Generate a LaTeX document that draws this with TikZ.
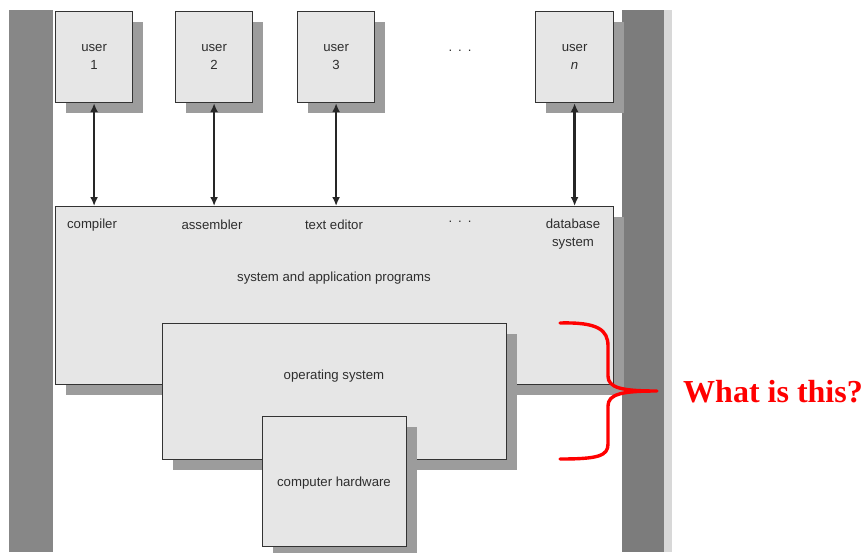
\documentclass[tikz,border=0pt]{standalone}
\usepackage{fontspec}
\setmainfont{Liberation Sans}
\newfontfamily\serifbold{Liberation Serif}
\usetikzlibrary{arrows.meta,shadows}
\definecolor{boxfill}{HTML}{E6E6E6}
\definecolor{boxline}{HTML}{333333}
\definecolor{shade}{HTML}{9C9C9C}
\definecolor{barcol}{HTML}{878787}
\definecolor{stripcol}{HTML}{D8D8D8}
\definecolor{txt}{HTML}{2E2E2E}
\definecolor{wred}{HTML}{FF0000}
\begin{document}
\begin{tikzpicture}[x=1pt,y=-1pt,
  layerbox/.style={draw=boxline,line width=1.2pt,fill=boxfill,inner sep=0pt,anchor=north west,
    drop shadow={shadow xshift=10pt,shadow yshift=-10pt,fill=shade,opacity=1}},
  lbl/.style={text=txt,font=\fontsize{13.2}{18}\selectfont,inner sep=0pt,align=center},
  link/.style={draw=black!85,line width=2.4pt,{Latex[length=9pt,width=8pt]}-{Latex[length=9pt,width=8pt]}}]
\useasboundingbox[fill=white] (0,0) rectangle (866,552);
% side bars
\fill[barcol] (9,10) rectangle (53,552);
\fill[stripcol] (663,10) rectangle (672,552);
\fill[barcol!92!black] (622,10) rectangle (664,552);
% user boxes
\node[layerbox,minimum width=77pt,minimum height=91pt] (u1) at (55,11) {};
\node[layerbox,minimum width=77pt,minimum height=91pt] (u2) at (175,11) {};
\node[layerbox,minimum width=77pt,minimum height=91pt] (u3) at (297,11) {};
\node[layerbox,minimum width=78pt,minimum height=91pt] (un) at (535,11) {};
\node[lbl] (t1) at (u1.center) {user\\1};
\node[lbl] (t2) at (u2.center) {user\\2};
\node[lbl] (t3) at (u3.center) {user\\3};
\node[lbl] (tn) at (un.center) {user\\\textit{n}};
\node[lbl] (dots1) at (460,51) {.\hspace{6pt}.\hspace{6pt}.};
% big box
\node[layerbox,minimum width=558pt,minimum height=178pt] (prog) at (55,206) {};
\node[lbl] (comp) at (92,225) {compiler};
\node[lbl] (asm) at (212,225) {assembler};
\node[lbl] (ted) at (334,225) {text editor};
\node[lbl] (dots2) at (460,222) {.\hspace{6pt}.\hspace{6pt}.};
\node[lbl] (db) at (573,234) {database\\system};
\node[lbl] (sap) at (334,278) {system and application programs};
% arrows
\draw[link] (u1.south) -- (u1.south |- prog.north);
\draw[link] (u2.south) -- (u2.south |- prog.north);
\draw[link] (u3.south) -- (u3.south |- prog.north);
\draw[link] (un.south) -- (un.south |- prog.north);
% operating system
\node[layerbox,minimum width=344pt,minimum height=136pt] (os) at (162,323) {};
\node[lbl] (ost) at (334,376) {operating system};
% hardware
\node[layerbox,minimum width=144pt,minimum height=130pt] (hw) at (262,416) {};
\node[lbl] (hwt) at (334,483) {computer hardware};
% brace
\coordinate (btop) at (560,323);
\coordinate (btip) at (657,391);
\coordinate (bbot) at (560,459);
\draw[wred,line width=3.4pt,line cap=round,line join=round]
  (btop) .. controls (598,322) and (608,330) .. (608,346) -- (608,376)
  .. controls (608,388) and (622,391) .. (btip)
  .. controls (622,391) and (608,394) .. (608,406) -- (608,444)
  .. controls (608,456) and (598,459) .. (bbot);
\node[text=wred,font=\serifbold\bfseries\fontsize{32}{36}\selectfont,anchor=west,inner sep=0pt] (q) at (683,392) {What is this?};
\end{tikzpicture}
\end{document}
